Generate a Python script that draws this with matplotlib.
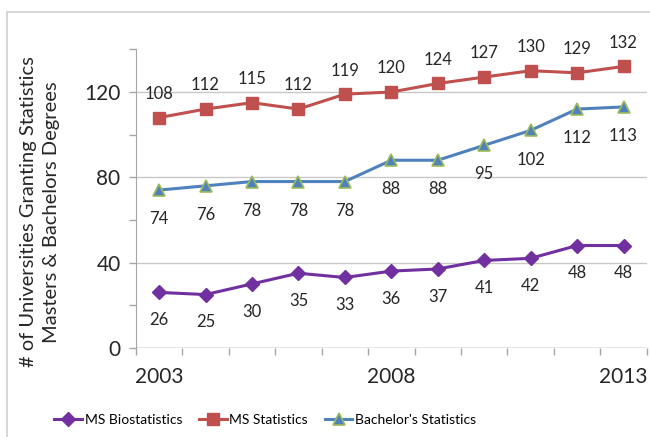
import numpy as np
import matplotlib.pyplot as plt
from matplotlib.patches import Rectangle

years = [2003, 2004, 2005, 2006, 2007, 2008, 2009, 2010, 2011, 2012, 2013]
ms_biostat = [26, 25, 30, 35, 33, 36, 37, 41, 42, 48, 48]
ms_stat = [108, 112, 115, 112, 119, 120, 124, 127, 130, 129, 132]
bachelor_stat = [74, 76, 78, 78, 78, 88, 88, 95, 102, 112, 113]
year_labels = ["2003", "2008", "2013"]

plt.rcParams['font.family'] = ['Lato', 'DejaVu Sans']

fig = plt.figure(figsize=(6.5, 4.37), dpi=100)
ax = fig.add_axes([0.209, 0.204, 0.786, 0.683])

# light border around the chart area
fig.patches.append(Rectangle((7 / 650, -0.05), 1.2, 1 - 12 / 437 + 0.05,
                             transform=fig.transFigure, fill=False,
                             edgecolor='#d0d0d0', linewidth=1.2))

x = np.arange(len(years))

ax.plot(x, ms_biostat, color='#7030A0', lw=2.2, marker='D', ms=7,
        label='MS Biostatistics', zorder=3)
ax.plot(x, ms_stat, color='#C0504D', lw=2.2, marker='s', ms=8,
        label='MS Statistics', zorder=3)
ax.plot(x, bachelor_stat, color='#4F81BD', lw=2.2, marker='^', ms=9,
        markeredgecolor='#9BBB59', markeredgewidth=1.2,
        label="Bachelor's Statistics", zorder=3)

# data labels
for xi, v in zip(x, ms_stat):
    ax.annotate(str(v), (xi, v), xytext=(0, 17), textcoords='offset points',
                ha='center', va='center', fontsize=12, color='#262626')
for xi, v in zip(x, bachelor_stat):
    ax.annotate(str(v), (xi, v), xytext=(0, -21), textcoords='offset points',
                ha='center', va='center', fontsize=12, color='#262626')
for xi, v in zip(x, ms_biostat):
    ax.annotate(str(v), (xi, v), xytext=(0, -20), textcoords='offset points',
                ha='center', va='center', fontsize=12, color='#262626')

ax.set_xlim(-0.5, len(years) - 0.5)
ax.set_ylim(0, 140)

# category-style x axis: tick marks between categories, labels every 5 years
ax.set_xticks(np.arange(-0.5, len(years), 1.0))
ax.set_xticklabels([])
ax.set_xticks([0, 5, 10], minor=True)
ax.set_xticklabels(year_labels, minor=True)
ax.tick_params(axis='x', which='major', length=5, color='#a6a6a6', width=1)
ax.tick_params(axis='x', which='minor', length=0, labelsize=15, pad=14,
               labelcolor='#262626')

ax.set_yticks([0, 40, 80, 120])
ax.set_yticks([20, 60, 100, 140], minor=True)
ax.tick_params(axis='y', which='both', length=5, color='#a6a6a6', width=1,
               labelsize=15, labelcolor='#262626', pad=6)
ax.grid(axis='y', which='major', color='#c8c8c8', lw=1)
ax.set_axisbelow(True)

for s in ['top', 'right']:
    ax.spines[s].set_visible(False)
for s in ['left', 'bottom']:
    ax.spines[s].set_color('#a6a6a6')
ax.spines['bottom'].set_visible(False)
ax.axhline(0, color='#a6a6a6', lw=1, zorder=1)

ax.set_ylabel('# of Universities Granting Statistics\nMasters & Bachelors Degrees',
              fontsize=14.5, color='#262626', linespacing=1.45)
ax.yaxis.set_label_coords(-0.148, 0.455)

fig.legend(loc='center', bbox_to_anchor=(0.408, 0.04), ncol=3, frameon=False,
           fontsize=10, handlelength=2.0, columnspacing=1.2, handletextpad=0.2)

fig.savefig('out.png', dpi=100)
